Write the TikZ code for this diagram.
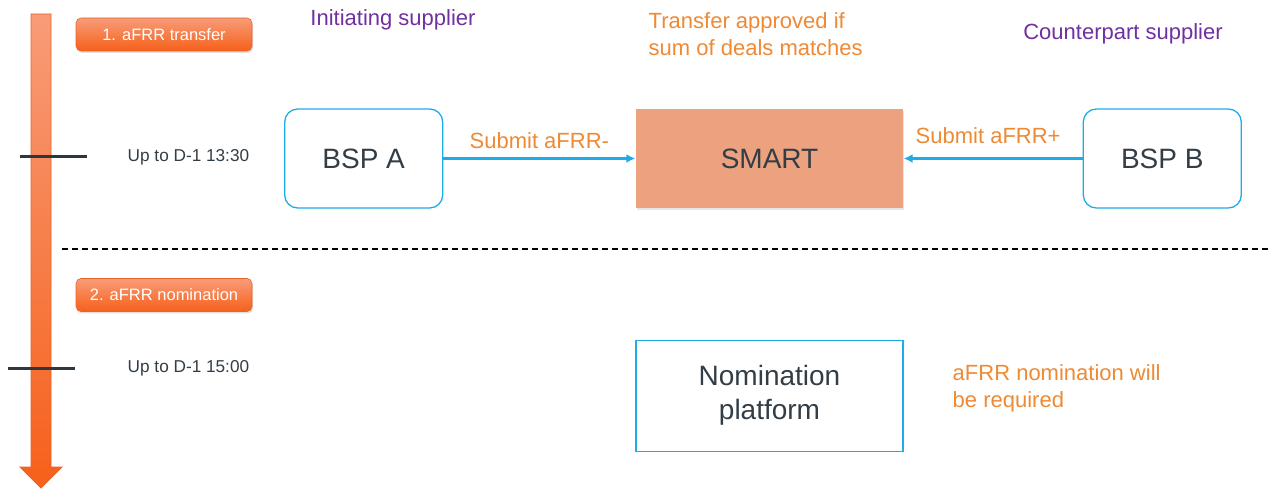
\documentclass[tikz,border=0pt]{standalone}
\usepackage{fontspec}
\setmainfont{Liberation Sans}
\usetikzlibrary{arrows.meta,positioning,shadows}

\definecolor{lineblue}{RGB}{30,172,232}
\definecolor{smartfill}{RGB}{236,162,126}
\definecolor{darktext}{RGB}{51,61,70}
\definecolor{orangetext}{RGB}{238,137,52}
\definecolor{purpletext}{RGB}{112,48,160}
\definecolor{tltop}{RGB}{248,156,120}
\definecolor{tlbot}{RGB}{246,96,26}
\definecolor{tledge}{RGB}{232,100,40}

\begin{document}
\begin{tikzpicture}[x=1pt,y=-1pt,thick,
    box/.style={draw=lineblue,line width=1.3pt,minimum width=158pt,minimum height=99pt,
      font=\fontsize{28}{34}\selectfont,text=darktext,align=center},
    bsp/.style={box,rounded corners=13pt},
    stepbox/.style={draw=tledge,line width=0.6pt,rounded corners=5pt,top color=tltop,bottom color=tlbot,
      minimum width=176pt,minimum height=33pt,text=white,font=\fontsize{16.5}{20}\selectfont,
      drop shadow={opacity=0.25,shadow xshift=1pt,shadow yshift=-2pt}},
    timetext/.style={anchor=west,text=darktext,font=\fontsize{17.2}{21}\selectfont},
    note/.style={text=orangetext,font=\fontsize{22}{27}\selectfont,align=left},
    who/.style={text=purpletext,font=\fontsize{22}{27}\selectfont},
    flow/.style={draw=lineblue,line width=2.4pt,-{Latex[length=9pt,width=9pt]}},
    tick/.style={draw=darktext!90!black,line width=3pt}]
  \useasboundingbox (0,0) rectangle (1278,489);

  % time line
  \shade[top color=tltop,bottom color=tlbot,draw=tledge,line width=0.8pt]
    (31,14) -- (51,14) -- (51,467) -- (62,467) -- (41,488) -- (20,467) -- (31,467) -- cycle;
  \draw[tick] (20,157) -- (87,157);
  \draw[tick] (8,368) -- (75,368);

  \node[stepbox] (step1) at (164,34.5) {1. aFRR transfer};
  \node[stepbox] (step2) at (164,295) {2. aFRR nomination};
  \node[timetext] (t1) at (124,157) {Up to D-1 13:30};
  \node[timetext] (t2) at (124,368) {Up to D-1 15:00};

  % transfer
  \node[box,draw=none,fill=smartfill,minimum width=267pt,
    drop shadow={opacity=0.2,shadow xshift=1pt,shadow yshift=-2pt}] (smart) at (769.5,158.5) {SMART};
  \node[bsp] (bspa) [left=192pt of smart] {BSP A};
  \node[bsp] (bspb) [right=179pt of smart] {BSP B};

  \draw[flow] (bspa) -- (smart) node[midway,above=5pt,note] (suba) {Submit aFRR-};
  \draw[flow] (bspb) -- (smart) node[midway,above=10pt,note,xshift=-5pt] (subb) {Submit aFRR+};

  \node[who] (init) at (393,20) {Initiating supplier};
  \node[who] (counter) at (1123,34) {Counterpart supplier};
  \node[note,anchor=west] (approve) at (645,34) {Transfer approved if\\sum of deals matches};

  \draw[line width=2pt,dash pattern=on 6pt off 4pt] (62,249) -- (1270,249);

  % nomination
  \node[box,minimum width=267pt,minimum height=111pt,line width=1.2pt] (nomin) [below=131pt of smart] {Nomination\\platform};
  \node[note,anchor=west] (required) at (949,388) {aFRR nomination will\\be required};
\end{tikzpicture}
\end{document}
